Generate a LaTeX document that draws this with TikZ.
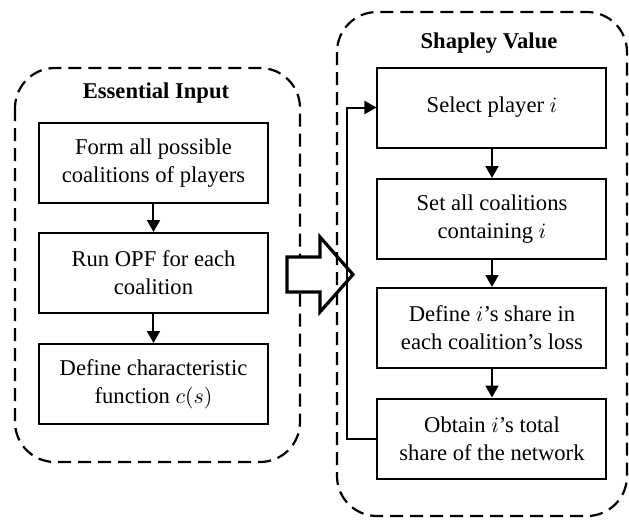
\documentclass[tikz,border=0pt]{standalone}
\usepackage{amssymb,amsmath}
\usepackage{fontspec}
\setmainfont{Liberation Serif}
\usetikzlibrary{arrows.meta}

\begin{document}
\begin{tikzpicture}[x=0.5pt,y=-0.5pt,
		stepbox/.style={draw,line width=1pt,minimum width=114.5pt,minimum height=40pt,align=center,inner sep=2pt,font=\fontsize{11.3}{14}\selectfont},
		group/.style={draw,dashed,dash pattern=on 6.5pt off 3.5pt,line width=1.1pt,rounded corners=20pt},
		heading/.style={font=\fontsize{11.3}{14}\selectfont\bfseries},
		arr/.style={line width=1pt,-{Triangle[width=6.5pt,length=6pt]}}]
		\useasboundingbox (0,0) rectangle (629,520);

		% left block
		\draw[group] (15,68) rectangle (300,462);
		\node[heading] (ein) at (156,93) {Essential Input};
		\node[stepbox] (form) at (153.5,163) {Form all possible\\coalitions of players};
		\node[stepbox] (opf) at (153.5,273) {Run OPF for each\\coalition};
		\node[stepbox] (char) at (153.5,384) {Define characteristic\\function $c(s)$};
		\draw[arr] (form) -- (opf);
		\draw[arr] (opf) -- (char);

		% hollow arrow between the blocks
		\draw[line width=1.6pt,fill=white] (287,257) -- (320,257) -- (320,237) -- (353,274.5)
			-- (320,312) -- (320,292) -- (287,292) -- cycle;

		% right block
		\draw[group] (337,12) rectangle (627,516);
		\node[heading] (shv) at (489,43) {Shapley Value};
		\node[stepbox] (sel) at (492,107.5) {Select player $i$};
		\node[stepbox] (set) at (492,219) {Set all coalitions\\containing $i$};
		\node[stepbox] (def) at (492,328) {Define $i$'s share in\\each coalition's loss};
		\node[stepbox] (obt) at (492,438.5) {Obtain $i$'s total\\share of the network};
		\draw[arr] (sel) -- (set);
		\draw[arr] (set) -- (def);
		\draw[arr] (def) -- (obt);
		\draw[arr] (obt.west) -- ++(-29,0) |- (sel.west);
\end{tikzpicture}
\end{document}
